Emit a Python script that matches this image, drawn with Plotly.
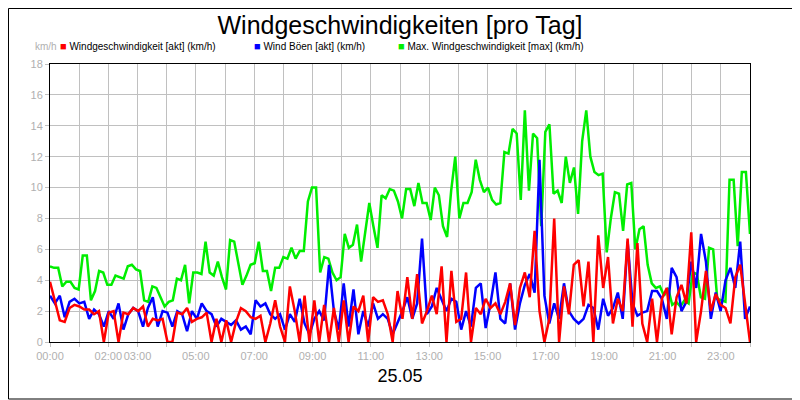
import numpy as np
import plotly.graph_objects as go

# 10-minute samples, hours 0..24
max_wind = [4.9,4.8,4.8,3.6,3.9,3.9, 3.5,3.4,5.6,5.6,2.7,3.3,
            4.6,4.5,3.7,3.7,4.3,4.2, 4.1,4.9,5.0,4.7,4.6,2.7,
            2.6,3.6,3.5,2.9,2.3,2.6, 2.7,4.1,4.0,5.0,2.5,4.5,
            4.5,4.4,6.5,4.5,4.3,5.2, 4.2,3.4,6.6,6.5,5.0,3.7,
            4.3,5.0,5.1,6.5,4.6,4.6, 3.3,4.8,4.8,5.5,5.4,6.1,
            5.4,5.9,5.9,9.1,10.0,10.0, 4.5,5.5,5.4,4.5,4.0,4.2,
            7.0,6.1,6.3,7.6,5.2,7.2, 9.0,7.5,6.1,9.5,9.3,9.9,
            9.8,9.1,8.0,9.9,9.9,8.8, 10.3,9.0,9.0,7.9,10.0,9.5,
            7.5,6.8,9.8,12.0,8.0,9.0, 9.0,9.7,11.8,10.5,9.7,10.0,
            9.2,8.9,9.0,12.3,12.2,13.8, 13.5,9.2,15.0,9.8,13.5,13.2,
            7.5,13.6,14.1,9.6,9.8,9.0, 12.0,10.3,11.3,8.3,13.0,15.0,
            12.0,11.0,10.8,10.9,5.8,8.0, 9.7,9.6,7.2,10.2,10.3,6.0,
            7.3,7.5,5.0,3.8,3.5,3.6, 3.0,3.5,2.4,2.6,2.3,2.7,
            2.5,4.5,4.4,2.9,2.8,6.1, 6.0,2.8,2.7,2.6,10.5,10.5,
            6.2,11.0,11.0,7.0]

gust = [3.0,2.5,3.0,1.6,2.6,2.8, 2.5,2.6,1.5,2.1,1.8,1.0,
        2.0,1.5,2.5,0.8,1.8,2.2, 2.0,1.0,2.2,2.9,1.0,2.0,
        1.9,1.0,2.0,1.8,0.7,2.0, 1.5,2.5,2.0,1.8,1.0,1.5,
        1.3,1.1,1.4,0.8,1.0,0.5, 2.7,2.3,2.5,1.8,1.5,1.8,
        0.8,1.8,1.3,2.8,1.2,0.5, 1.5,2.0,1.4,5.0,2.0,0.8,
        3.8,1.0,3.4,0.5,2.0,1.0, 2.5,1.5,1.8,1.5,0.5,1.2,
        2.0,2.9,1.5,2.5,6.7,1.8, 2.3,3.5,2.8,2.0,2.8,2.6,
        0.8,2.0,1.0,3.5,3.8,0.9, 2.5,4.5,1.5,1.2,3.8,0.8,
        2.5,3.7,4.4,3.2,11.8,3.0, 1.2,2.5,1.5,3.8,2.0,1.5,
        1.2,1.5,2.4,2.2,0.8,2.8, 1.7,2.2,3.2,1.5,6.5,2.5,
        1.7,1.9,2.0,3.3,3.3,2.8, 1.5,4.8,4.2,2.0,2.6,5.2,
        3.5,7.0,5.2,1.5,3.2,2.0, 4.0,4.8,3.5,6.5,1.5,2.3]

speed = [3.9,2.6,1.4,1.3,2.2,2.4, 2.3,2.1,2.1,1.8,2.0,0.0,
         1.9,2.0,0.0,1.9,1.8,2.2, 2.0,2.3,1.0,1.5,1.4,1.5,
         0.0,0.0,1.9,1.8,2.2,1.3, 1.5,1.6,1.9,0.0,1.5,0.0,
         1.4,0.0,1.3,2.2,2.0,1.6, 1.5,1.7,0.0,1.2,2.7,1.0,
         0.0,3.6,2.0,0.0,3.0,0.0, 2.7,0.0,2.4,0.0,2.2,0.0,
         2.7,0.0,2.3,2.0,3.0,0.0, 2.9,2.6,2.7,1.8,0.0,3.3,
         1.5,4.2,1.5,4.4,1.2,2.0, 3.0,1.8,4.9,0.0,4.6,1.3,
         1.5,4.5,0.0,2.2,1.8,2.8, 2.2,2.5,1.8,2.6,3.8,1.1,
         3.5,4.5,2.9,7.2,2.0,0.0, 1.5,8.0,0.0,3.6,1.8,5.0,
         5.3,2.3,5.2,0.0,6.9,3.5, 5.5,1.2,2.8,2.0,6.7,1.0,
         6.4,1.2,0.0,2.8,0.0,2.8, 3.5,0.5,2.9,3.7,2.5,7.1,
         0.0,2.0,4.6,2.0,3.1,2.4, 2.2,1.2,4.2,5.0,2.3,0.0]

x_max = np.linspace(0, 24, len(max_wind))
x_gust = np.linspace(0, 24, len(gust))
x_speed = np.linspace(0, 24, len(speed))
tick_labels = {0: "00:00", 2: "02:00", 3: "03:00", 5: "05:00", 7: "07:00", 9: "09:00",
               11: "11:00", 13: "13:00", 15: "15:00", 17: "17:00", 19: "19:00",
               21: "21:00", 23: "23:00"}

fig = go.Figure()
fig.add_trace(go.Scatter(x=x_max, y=max_wind, mode="lines", line=dict(color="#00ee00", width=2.5),
                         name="Max. Windgeschwindigkeit [max] (km/h)"))
fig.add_trace(go.Scatter(x=x_gust, y=gust, mode="lines", line=dict(color="#0000ff", width=2.5),
                         name="Wind Böen [akt] (km/h)"))
fig.add_trace(go.Scatter(x=x_speed, y=speed, mode="lines", line=dict(color="#ff0000", width=2.5),
                         name="Windgeschwindigkeit [akt] (km/h)"))

legend = [("#ff0000", "Windgeschwindigkeit [akt] (km/h)", 0.011),
          ("#0000ff", "Wind Böen [akt] (km/h)", 0.289),
          ("#00ee00", "Max. Windgeschwindigkeit [max] (km/h)", 0.494)]

fig.update_layout(
    width=800, height=400, paper_bgcolor="white", plot_bgcolor="white",
    margin=dict(l=42, r=58, t=56, b=66, autoexpand=False), showlegend=False,
    font=dict(family="Liberation Sans, Arial", color="black"),
    title=dict(text="Windgeschwindigkeiten [pro Tag]", x=(42 + 350) / 800, xanchor="center",
               y=0.98, yanchor="top", font=dict(size=25)),
    xaxis=dict(range=[0, 24], tickvals=list(range(25)), ticktext=[tick_labels.get(h, "") for h in range(25)],
               tickangle=0, automargin=False,
               showgrid=True, gridcolor="#c0c0c0", ticks="outside", ticklen=4, tickcolor="#c0c0c0",
               tickfont=dict(size=11, color="#b0b0b0"), showline=True, linecolor="black", mirror=True,
               title=dict(text="25.05", font=dict(size=18, color="black"), standoff=8)),
    yaxis=dict(range=[0, 18], dtick=2, showgrid=True, gridcolor="#c0c0c0", zeroline=False, automargin=False,
               ticks="outside", ticklen=4, tickcolor="#c0c0c0", tickfont=dict(size=11, color="#b0b0b0"),
               showline=True, linecolor="black", mirror=True),
    shapes=[dict(type="rect", xref="paper", yref="paper", x0=-41.5/700, x1=749/700, y0=-57/278, y1=333.5/278,
                 line=dict(color="black", width=1))],
)
ann = [dict(x=-0.024, y=1.035, xref="paper", yref="paper", yanchor="bottom", text="km/h", showarrow=False,
            font=dict(size=10, color="#b0b0b0"))]
for c, t, xp in legend:
    ann.append(dict(x=xp, y=1.035, xref="paper", yref="paper", yanchor="bottom",
                    text="<span style='color:%s;font-size:11px'>■</span> %s" % (c, t),
                    showarrow=False, xanchor="left", font=dict(size=10, color="black")))
fig.update_layout(annotations=ann)
fig.write_html("out.html")
